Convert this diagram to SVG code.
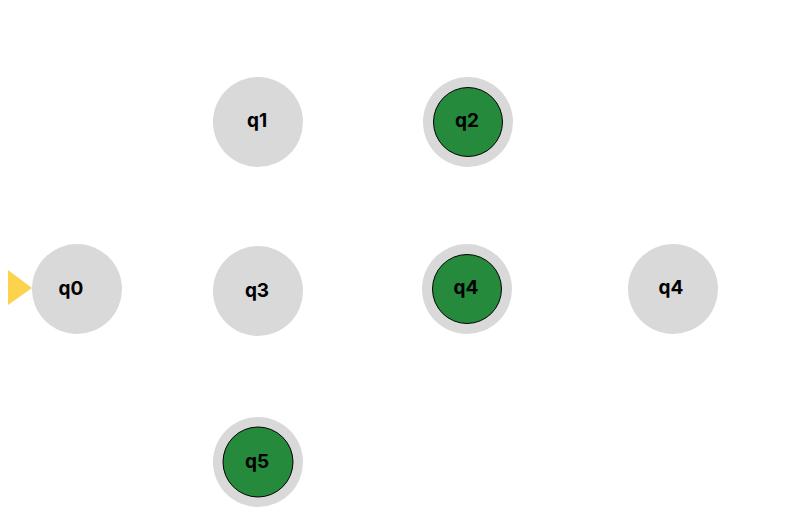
<svg xmlns="http://www.w3.org/2000/svg" width="791" height="507" viewBox="0 0 791 507">
<style>
.st{fill:#d9d9d9}
.acc{fill:#258a3c;stroke:#000;stroke-width:1}
.lbl{font-family:Inter,"Liberation Sans",Arial,sans-serif;font-weight:bold;font-size:19px;fill:#000;text-anchor:middle;dominant-baseline:central}
.start{fill:#fdd24c}
</style>
<rect width="791" height="507" fill="#fff"/>
<g id="connectors"></g>
<g id="start"><polygon class="start" points="8,270 32,288 8,305"/></g>
<g id="q0"><circle class="st" cx="77" cy="289" r="45"/><text class="lbl" x="71" y="288">q0</text></g>
<g id="q1"><circle class="st" cx="258" cy="122" r="45"/><text class="lbl" x="257" y="120">q1</text></g>
<g id="q2"><circle class="st" cx="468" cy="122" r="45"/><circle class="acc" cx="468" cy="122" r="34.5"/><text class="lbl" x="467" y="120">q2</text></g>
<g id="q3"><circle class="st" cx="258" cy="291" r="45"/><text class="lbl" x="257" y="290">q3</text></g>
<g id="q4a"><circle class="st" cx="467" cy="289" r="45"/><circle class="acc" cx="467" cy="289" r="34.5"/><text class="lbl" x="466" y="287">q4</text></g>
<g id="q4b"><circle class="st" cx="673" cy="289" r="45"/><text class="lbl" x="671" y="287">q4</text></g>
<g id="q5"><circle class="st" cx="258" cy="462" r="45"/><circle class="acc" cx="258" cy="462" r="35"/><text class="lbl" x="257" y="461">q5</text></g>
</svg>
